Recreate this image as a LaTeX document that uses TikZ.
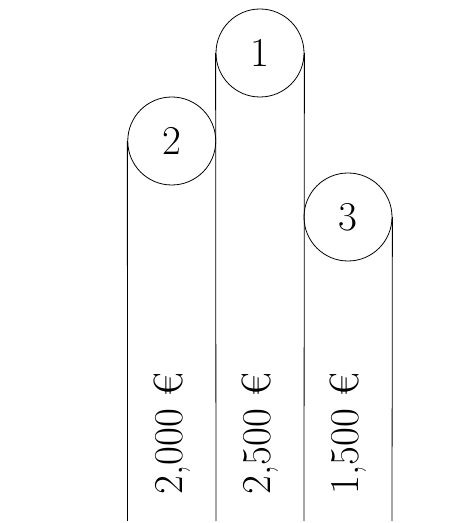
\documentclass[tikz,border=0pt]{standalone}
\usepackage{fontspec}
\begin{document}
\begin{tikzpicture}[x=1pt,y=1pt,line width=0.8pt,
  place/.style={circle,draw,minimum size=88pt,inner sep=0pt,font=\fontsize{41}{48}\selectfont},
  prize/.style={rotate=90,anchor=west,inner sep=0pt,font=\fontsize{41}{48}\selectfont}]
\useasboundingbox (0,0) rectangle (475,523);
\node[place] (c1) at (260,470) {1};
\node[place] (c2) at (171.75,382) {2};
\node[place] (c3) at (348,306) {3};
\coordinate (b1) at (127.5,2);
\coordinate (b2) at (216,2);
\coordinate (b3) at (304,2);
\coordinate (b4) at (392,2);
\draw (c2.west) -- (b1);
\draw (c1.west) -- (b2);
\draw (c1.east) -- (b3);
\draw (c3.east) -- (b4);
\node[prize] (p2) at (171.75,28) {2,000 €};
\node[prize] (p1) at (260,28) {2,500 €};
\node[prize] (p3) at (348,28) {1,500 €};
\end{tikzpicture}
\end{document}
